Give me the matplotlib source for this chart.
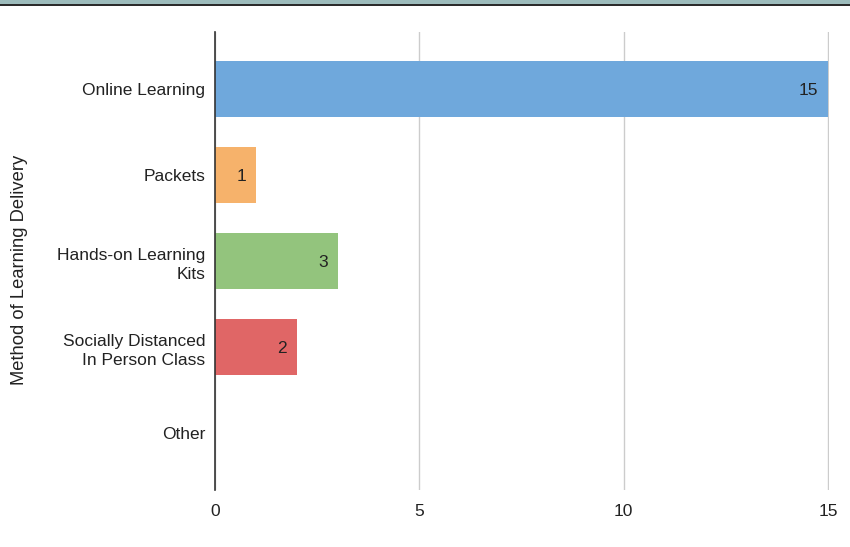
import matplotlib.pyplot as plt
from matplotlib.patches import Rectangle

categories = ['Online Learning', 'Packets', 'Hands-on Learning\nKits',
              'Socially Distanced\nIn Person Class', 'Other']
counts = [15, 1, 3, 2, 0]
colors = ['#6fa8dc', '#f6b26b', '#93c47d', '#e06666', '#cccccc']
xticks = [0, 5, 10, 15]

plt.rcParams['font.family'] = ['Liberation Sans', 'DejaVu Sans']

fig = plt.figure(figsize=(8.5, 5.47), dpi=100)
ax = fig.add_axes([0.2529, 0.1042, 0.7224, 0.8373])

# screenshot strip at the top
fig.patches.append(Rectangle((0, 1 - 5 / 547), 1, 5 / 547, transform=fig.transFigure,
                             facecolor='#9dbcbc', edgecolor='none', zorder=0))
fig.patches.append(Rectangle((0, 1 - 6 / 547), 1, 2 / 547, transform=fig.transFigure,
                             facecolor='#2b2b2b', edgecolor='none', zorder=1))

ypos = list(range(len(categories)))
bars = ax.barh(ypos, counts, height=0.65, color=colors, zorder=3)

for b, v in zip(bars, counts):
    if v > 0:
        ax.annotate(str(v), xy=(v, b.get_y() + b.get_height() / 2),
                    xytext=(-7, -1), textcoords='offset points',
                    ha='right', va='center', fontsize=12.5, color='#222222', zorder=4)

ax.set_xlim(0, 15.02)
ax.set_ylim(4.66, -0.66)
ax.set_xticks(xticks)
ax.set_yticks(ypos)
ax.set_yticklabels(categories, ha='right', fontsize=12.5, color='#222222',
                   linespacing=1.35)
ax.tick_params(axis='x', labelsize=12.5, colors='#222222', length=0, pad=10)
ax.tick_params(axis='y', length=0, pad=7)
ax.xaxis.grid(True, color='#cccccc', linewidth=1, zorder=0)
for s in ['top', 'right', 'bottom']:
    ax.spines[s].set_visible(False)
ax.spines['left'].set_color('#333333')
ax.spines['left'].set_linewidth(1.2)
ax.spines['left'].set_zorder(5)
ax.set_ylabel('Method of Learning Delivery', fontsize=13.2, color='#222222')
ax.yaxis.set_label_coords(-0.305, 0.48)

fig.savefig('out.png', dpi=100)
